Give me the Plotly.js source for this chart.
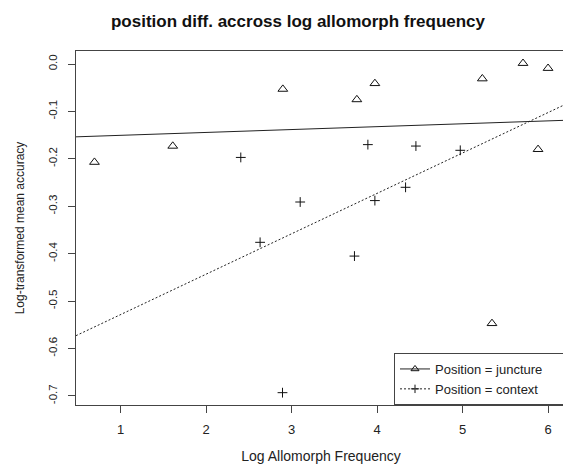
<!DOCTYPE html>
<html>
<head>
<meta charset="utf-8">
<script src="https://cdn.plot.ly/plotly-3.0.1.min.js"></script>
<style>
html,body{margin:0;padding:0;overflow:hidden;background:#fff;}
#chart{width:566px;height:464px;}
</style>
</head>
<body>
<div id="chart"></div>
<script>
// Juncture (triangles)
var junctureX = [0.693, 1.609, 2.897, 3.763, 3.974, 5.231, 5.707, 6.000, 5.883, 5.344];
var junctureY = [-0.207, -0.173, -0.053, -0.075, -0.041, -0.031, 0.0015, -0.009, -0.180, -0.547];
// Context (plus signs)
var contextX = [2.405, 3.100, 2.631, 3.735, 2.893, 3.892, 4.454, 4.973, 4.333, 3.974];
var contextY = [-0.197, -0.291, -0.376, -0.405, -0.693, -0.170, -0.173, -0.182, -0.260, -0.288];

var seriesNames = ['Position = juncture', 'Position = context'];
var yTickVals = [0, -0.1, -0.2, -0.3, -0.4, -0.5, -0.6, -0.7];
var yTickText = ['0.0', '-0.1', '-0.2', '-0.3', '-0.4', '-0.5', '-0.6', '-0.7'];
var xTickVals = [1, 2, 3, 4, 5, 6];

var xRange = [0.477, 6.21];
var yRange = [-0.719, 0.0274];

function lm(xs, ys) {
  var n = xs.length, mx = 0, my = 0;
  for (var i = 0; i < n; i++) { mx += xs[i]; my += ys[i]; }
  mx /= n; my /= n;
  var sxy = 0, sxx = 0;
  for (var j = 0; j < n; j++) { sxy += (xs[j]-mx)*(ys[j]-my); sxx += (xs[j]-mx)*(xs[j]-mx); }
  var b = sxy / sxx;
  return {a: my - b*mx, b: b};
}
var fj = lm(junctureX, junctureY);
var fc = lm(contextX, contextY);
var lineX = xRange.slice();
var pad = '\u00a0\u00a0\u00a0\u00a0\u00a0\u00a0\u00a0';

var ink = '#111';
var traces = [
  {x: lineX, y: lineX.map(function(v){return fj.a + fj.b*v;}), mode: 'lines',
   line: {color: '#222', width: 1}, showlegend: false, hoverinfo: 'skip'},
  {x: lineX, y: lineX.map(function(v){return fc.a + fc.b*v;}), mode: 'lines',
   line: {color: '#222', width: 1, dash: '2px,2px'}, showlegend: false, hoverinfo: 'skip'},
  {x: junctureX, y: junctureY, mode: 'markers', showlegend: false,
   marker: {symbol: 'triangle-up-open', size: 8.5, color: ink, line: {color: ink, width: 1}}},
  {x: contextX, y: contextY, mode: 'markers', showlegend: false,
   marker: {symbol: 'cross-thin', size: 7, color: ink, line: {color: ink, width: 1}}},
  {x: [null], y: [null], mode: 'lines+markers', name: seriesNames[0] + pad,
   line: {color: '#222', width: 1},
   marker: {symbol: 'triangle-up-open', size: 7, color: ink, line: {color: ink, width: 1}}},
  {x: [null], y: [null], mode: 'lines+markers', name: seriesNames[1] + pad,
   line: {color: '#222', width: 1, dash: '2px,2px'},
   marker: {symbol: 'cross-thin', size: 6, color: ink, line: {color: ink, width: 1}}}
];

var axisCommon = {
  showgrid: false, zeroline: false, showline: true, mirror: true,
  linecolor: '#444', linewidth: 1, ticks: 'outside', ticklen: 7,
  tickcolor: '#444', tickwidth: 1
};

var layout = {
  width: 566, height: 464,
  margin: {l: 76, r: 0, t: 51, b: 59, autoexpand: false},
  paper_bgcolor: '#fff', plot_bgcolor: '#fff',
  font: {family: 'Liberation Sans, Arial, sans-serif', color: '#111'},
  title: {text: '<b>position diff. accross log allomorph frequency</b>',
          font: {size: 17, color: '#111'}, x: 298/566, xref: 'container', xanchor: 'center',
          y: 1 - 21/464, yref: 'container', yanchor: 'middle'},
  xaxis: Object.assign({}, axisCommon, {
    range: xRange, tickvals: xTickVals, tickfont: {size: 13, color: '#222'},
    ticklabelstandoff: 5,
    title: {text: 'Log Allomorph Frequency', font: {size: 14, color: '#222'}, standoff: 17}
  }),
  yaxis: Object.assign({}, axisCommon, {
    range: yRange, tickvals: yTickVals, ticktext: yTickText, tickangle: -90,
    tickfont: {size: 11.5, color: '#222'}, ticklabelstandoff: 6,
    title: {text: 'Log-transformed mean accuracy', font: {size: 12, color: '#222'}, standoff: 20}
  }),
  legend: {x: (394-76)/490, xanchor: 'left', y: 0, yanchor: 'bottom',
           bordercolor: '#444', borderwidth: 1, bgcolor: '#fff',
           font: {size: 13, color: '#222'}, tracegroupgap: 0},
  showlegend: true
};

Plotly.newPlot('chart', traces, layout, {displayModeBar: false, staticPlot: true});
</script>
</body>
</html>
